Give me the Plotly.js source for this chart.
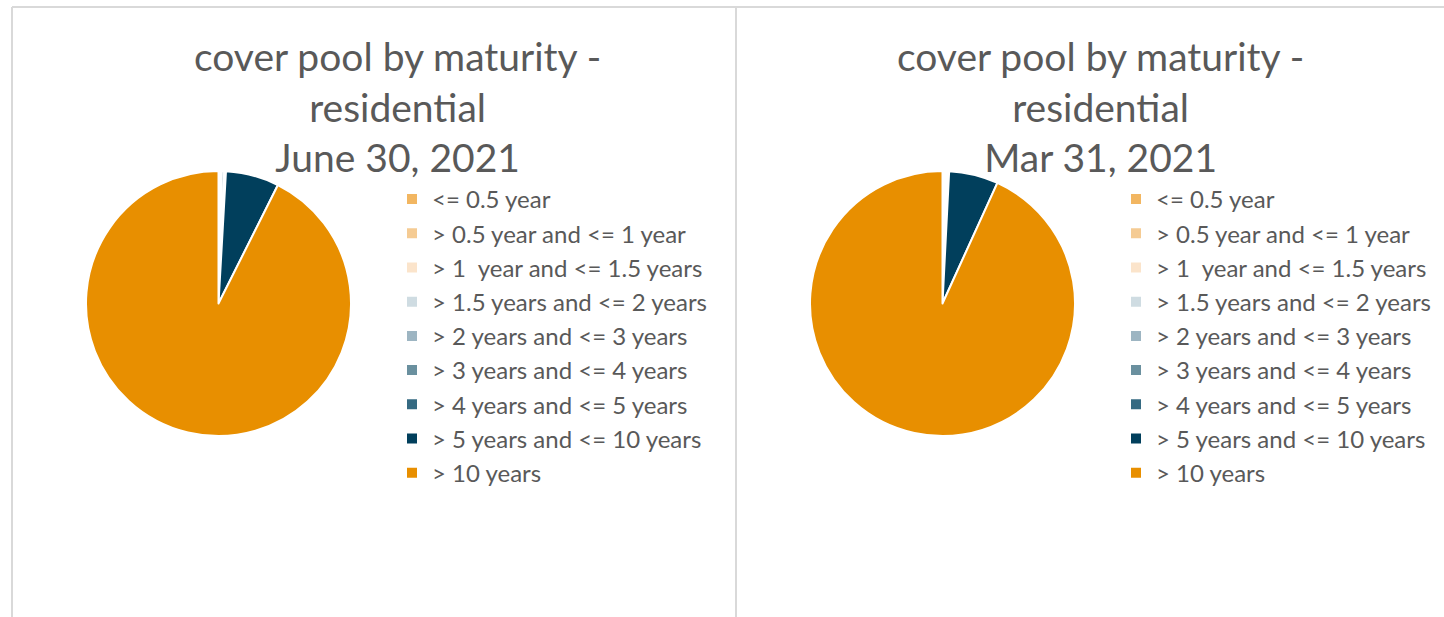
<!DOCTYPE html>
<html>
<head>
<meta charset="utf-8">
<script src="https://cdn.plot.ly/plotly-3.0.1.min.js"></script>
<style>html,body{margin:0;padding:0;background:#fff;}#chart{width:1444px;height:617px;}</style>
</head>
<body>
<div id="chart"></div>
<script>
const categories = [
  "<= 0.5 year",
  "> 0.5 year and <= 1 year",
  "> 1  year and <= 1.5 years",
  "> 1.5 years and <= 2 years",
  "> 2 years and <= 3 years",
  "> 3 years and <= 4 years",
  "> 4 years and <= 5 years",
  "> 5 years and <= 10 years",
  "> 10 years"
];
const juneValues = [0.1, 0.1, 0.1, 0.1, 0.3, 0.1, 0.1, 6.5, 92.6];
const marchValues = [0.1, 0.1, 0.1, 0.1, 0.2, 0.1, 0.1, 6.0, 93.2];
const sliceColors = ["#F2B661", "#F5CB93", "#FBE4CB", "#CFDCE2", "#9DB5C2", "#6A909F", "#356A82", "#013F5C", "#E88F00"];
const titleJune = "cover pool by maturity -<br>residential<br>June 30, 2021";
const titleMarch = "cover pool by maturity -<br>residential<br>Mar 31, 2021";

const W = 1444, H = 617;
const font = "Lato, 'Open Sans', sans-serif";
function px(x){return x/W;}
function py(y){return 1 - y/H;}

// second pie gets distinct (invisibly marked) labels so it can have its own legend
const marchLabels = categories.map(c => c + "\u200b");

const common = {
  type: "pie",
  sort: false,
  direction: "clockwise",
  rotation: 0,
  textinfo: "none",
  hoverinfo: "label+percent",
  marker: {colors: sliceColors, line: {color: "#ffffff", width: 2}}
};
const traces = [
  Object.assign({}, common, {
    labels: categories,
    values: juneValues,
    domain: {x: [px(86), px(351)], y: [py(436), py(171)]},
    legend: "legend"
  }),
  Object.assign({}, common, {
    labels: marchLabels,
    values: marchValues,
    domain: {x: [px(810), px(1075)], y: [py(436), py(171)]},
    legend: "legend2"
  })
];

const legendCommon = {
  font: {family: font, size: 24, color: "#595959"},
  bgcolor: "rgba(0,0,0,0)",
  xanchor: "left",
  yanchor: "top",
  itemclick: false,
  itemdoubleclick: false
};

const layout = {
  width: W, height: H,
  margin: {l: 0, r: 0, t: 0, b: 0},
  paper_bgcolor: "#ffffff",
  showlegend: true,
  legend: Object.assign({}, legendCommon, {x: px(392), y: py(177)}),
  legend2: Object.assign({}, legendCommon, {x: px(1116), y: py(177)}),
  annotations: [
    {text: titleJune, xref: "paper", yref: "paper", x: px(397), y: py(31), xanchor: "center", yanchor: "top",
     showarrow: false, align: "center", font: {family: font, size: 39, color: "#595959"}},
    {text: titleMarch, xref: "paper", yref: "paper", x: px(1100), y: py(31), xanchor: "center", yanchor: "top",
     showarrow: false, align: "center", font: {family: font, size: 39, color: "#595959"}}
  ],
  shapes: [
    {type: "line", xref: "paper", yref: "paper", x0: px(12), x1: 1, y0: py(7), y1: py(7), line: {color: "#d9d9d9", width: 2}},
    {type: "line", xref: "paper", yref: "paper", x0: px(12), x1: px(12), y0: py(7), y1: 0, line: {color: "#d9d9d9", width: 2}},
    {type: "line", xref: "paper", yref: "paper", x0: px(736), x1: px(736), y0: py(7), y1: 0, line: {color: "#d9d9d9", width: 2}}
  ]
};

Plotly.newPlot("chart", traces, layout, {staticPlot: true, displayModeBar: false});
</script>
</body>
</html>
